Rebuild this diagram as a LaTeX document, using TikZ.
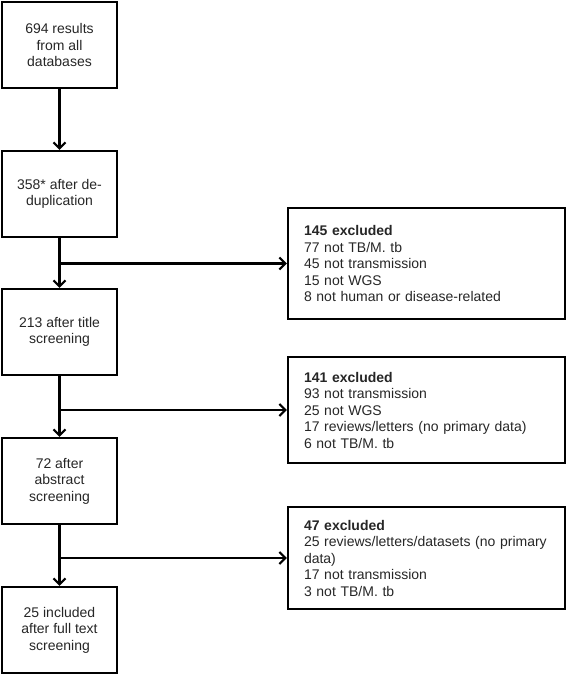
\documentclass[tikz,border=0pt]{standalone}
\usepackage{fontspec}
\setmainfont{Liberation Sans}
\usetikzlibrary{arrows.meta}
\begin{document}
\begin{tikzpicture}[x=1pt,y=-1pt,
  every node/.style={font=\fontsize{14}{16.5}\selectfont, text=black!85},
  leftbox/.style={draw=black, line width=2.2pt, rectangle, minimum width=115pt, minimum height=86pt, align=center, inner sep=0pt},
  rightbox/.style={draw=black, line width=2.2pt, rectangle, text width=245pt, inner xsep=16pt, inner ysep=0pt, align=left},
  conn/.style={line width=2.2pt, -{Straight Barb[length=6pt,width=12pt,line width=2.2pt]}}
]
\useasboundingbox (0,0) rectangle (567,676);
\node[leftbox] (n1) at (59.5,45) {694 results\\from all\\databases};
\node[leftbox] (n2) at (59.5,194) {358* after de-\\duplication};
\node[leftbox] (n3) at (59.5,332) {213 after title\\screening};
\node[leftbox] (n4) at (59.5,481) {72 after\\abstract\\screening};
\node[leftbox] (n5) at (59.5,630) {25 included\\after full text\\screening};
\node[rightbox, minimum height=111pt] (ea) at (426.5,263.5) {\textbf{145 excluded}\\77 not TB/M. tb\\45 not transmission\\15 not WGS\\8 not human or disease-related};
\node[rightbox, minimum height=106pt] (eb) at (426.5,410) {\textbf{141 excluded}\\93 not transmission\\25 not WGS\\17 reviews/letters (no primary data)\\6 not TB/M. tb};
\node[rightbox, minimum height=102pt] (ec) at (426.5,558) {\textbf{47 excluded}\\25 reviews/letters/datasets (no primary\\data)\\17 not transmission\\3 not TB/M. tb};
\coordinate (b1) at (59.5,263.5);
\coordinate (b2) at (59.5,410);
\coordinate (b3) at (59.5,558);
\draw[conn] (n1) -- (n2);
\draw[conn] (n2) -- (n3);
\draw[conn] (n3) -- (n4);
\draw[conn] (n4) -- (n5);
\draw[conn] (b1) -- (ea.west);
\draw[conn] (b2) -- (eb.west);
\draw[conn] (b3) -- (ec.west);
\end{tikzpicture}
\end{document}
